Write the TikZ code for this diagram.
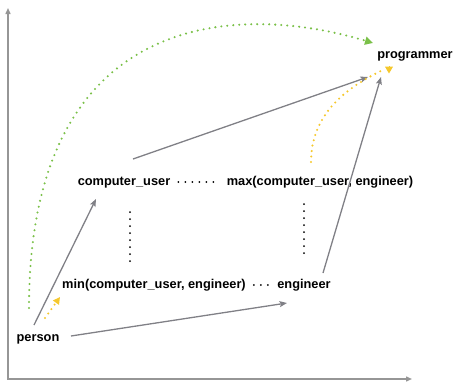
\documentclass[tikz,border=0pt]{standalone}
\usepackage{fontspec}
\setmainfont{Liberation Sans}
\usetikzlibrary{arrows.meta,calc}

\definecolor{linegray}{RGB}{128,128,134}
\definecolor{axisgray}{RGB}{150,150,150}
\definecolor{dotgreen}{RGB}{122,192,72}
\definecolor{dotyellow}{RGB}{245,200,45}

\begin{document}
\begin{tikzpicture}[x=1pt,y=-1pt,
	label/.style={font=\bfseries\fontsize{12.8}{15}\selectfont, inner sep=2pt, text height=9pt, text depth=3pt},
	link/.style={draw=linegray, line width=1.3pt, -{Stealth[length=7.5pt,width=6pt,inset=1.5pt]}},
	order/.style={draw=black, line width=2pt, line cap=round, dash pattern=on 0pt off 7pt},
	greendots/.style={draw=dotgreen, line width=2.3pt, line cap=round, dash pattern=on 0pt off 6pt, -{Triangle[length=8pt,width=8pt,fill=dotgreen]}},
	yellowdots/.style={draw=dotyellow, line width=2.3pt, line cap=round, dash pattern=on 0pt off 5.5pt},
	axis/.style={draw=axisgray, line width=1.4pt, {Triangle[length=6pt,width=5pt]}-{Triangle[length=6pt,width=5pt]}}]
	
	\useasboundingbox (0,0) rectangle (453,381);
	
	% axes
	\coordinate (ytop) at (8,8);
	\coordinate (xend) at (412,379);
	\draw[axis] (ytop) |- (xend);
	
	% types
	\node[label] (person) at (38,338) {person};
	\node[label] (minnode) at (154,285) {min(computer\_user, engineer)};
	\node[label] (engineer) at (304,285) {engineer};
	\node[label] (cuser) at (124,182) {computer\_user};
	\node[label] (maxnode) at (320,182) {max(computer\_user, engineer)};
	\node[label] (programmer) at (415,55) {programmer};
	
	% subtype arrows
	\draw[link] ($(person)+(-4,-13)$) -- ($(cuser)+(-28,17)$);
	\draw[link] ($(person)+(33,-2)$) -- ($(engineer)+(-17,18)$);
	\draw[link] ($(cuser)+(9,-23)$) -- ($(programmer)+(-47,22)$);
	\draw[link] ($(engineer)+(19,-12)$) -- ($(programmer)+(-34,22)$);
	
	% dotted order lines
	\draw[order, shorten <=6pt, shorten >=5pt] (cuser.east) -- (maxnode.west);
	\draw[order, shorten <=6pt, shorten >=6pt] (minnode.east) -- (engineer.west);
	\draw[order, shorten <=22pt, shorten >=11pt] ([xshift=6pt]cuser.south) -- ([xshift=6pt]cuser.south |- minnode.north);
	\draw[order, shorten <=14pt, shorten >=19pt] (engineer.north |- maxnode.south) -- (engineer.north);
	
	% green path person -> programmer
	\draw[greendots] ($(person)+(-9,-30)$) .. controls (29,15) and (230,0) .. ($(programmer)+(-42,-12)$);
	
	% yellow paths
	\draw[yellowdots, -{Triangle[length=7pt,width=7pt,fill=dotyellow]}] ($(person)+(7,-20)$) -- ($(minnode)+(-94,12)$);
	\draw[yellowdots] ($(maxnode)+(-9,-20)$) .. controls (311,115) and (345,88) .. ($(programmer)+(-32,15)$);
	\draw[draw=dotyellow, line width=1pt, -{Triangle[length=7pt,width=8pt,fill=dotyellow]}] ($(programmer)+(-26,11)$) -- ($(programmer)+(-26,18.5)$);
	
\end{tikzpicture}
\end{document}
